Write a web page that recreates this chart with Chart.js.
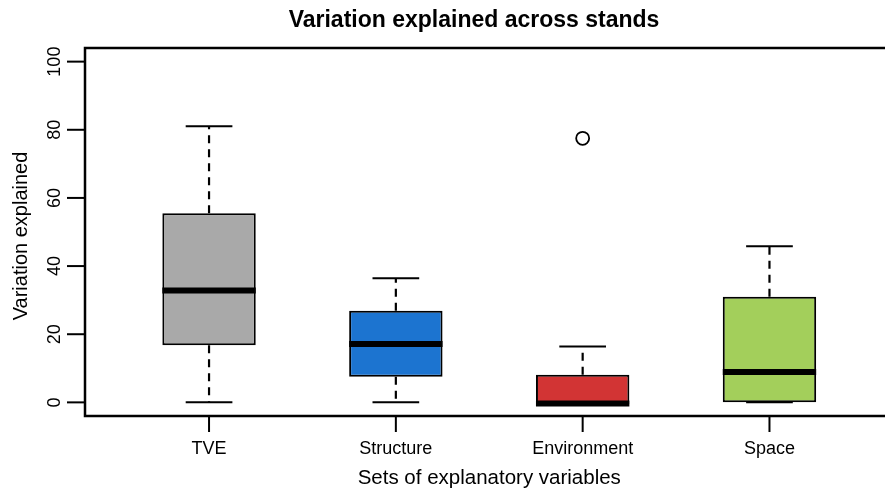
<!DOCTYPE html>
<html lang="en">
<head>
  <meta charset="UTF-8">
  <meta name="viewport" content="width=device-width, initial-scale=1.0">
  <title>Variation explained across stands</title>
  <script src="https://cdn.jsdelivr.net/npm/chart.js"></script>
  <style>
    html, body { margin: 0; padding: 0; background: #fff; overflow: hidden; }
    #wrap { width: 885px; height: 490px; }
  </style>
</head>
<body>
  <div id="wrap"><canvas id="box-chart"></canvas></div>
  <script>
    const categories = ['TVE', 'Structure', 'Environment', 'Space'];
    const whiskerLow = [0, 0, -0.5, 0];
    const quartile1 = [16.8, 7.5, -0.5, 0];
    const medians = [32.8, 17.1, -0.3, 8.9];
    const quartile3 = [55.5, 26.9, 8.1, 31.0];
    const whiskerHigh = [81.0, 36.4, 16.4, 45.8];
    const outlierGroups = [3];
    const outlierValues = [77.5];
    const yTicks = [0, 20, 40, 60, 80, 100];
    const boxColors = ['#A9A9A9', '#1C74D0', '#D23434', '#A3CF5B'];

    const positions = categories.map((c, i) => i + 1);
    const gap = x => ({ x, y: null });

    const boxData = positions.map((x, i) => ({ x, y: [quartile1[i], quartile3[i]] }));
    const medianData = positions.flatMap((x, i) => [
      { x: x - 0.25, y: medians[i] }, { x: x + 0.25, y: medians[i] }, gap(x + 0.25)
    ]);
    const whiskerData = positions.flatMap((x, i) => [
      { x, y: quartile3[i] }, { x, y: whiskerHigh[i] }, gap(x),
      { x, y: quartile1[i] }, { x, y: whiskerLow[i] }, gap(x)
    ]);
    const capData = positions.flatMap((x, i) => [
      { x: x - 0.125, y: whiskerHigh[i] }, { x: x + 0.125, y: whiskerHigh[i] }, gap(x),
      { x: x - 0.125, y: whiskerLow[i] }, { x: x + 0.125, y: whiskerLow[i] }, gap(x)
    ]);
    const outlierData = outlierGroups.map((g, i) => ({ x: g, y: outlierValues[i] }));

    const FONT = '"Liberation Sans", Arial, Helvetica, sans-serif';

    // frame, ticks and all text, placed with the chart's own scales
    const axesPlugin = {
      id: 'axesPlugin',
      afterDraw(chart) {
        const { ctx, chartArea: a, scales: { x, y } } = chart;
        ctx.save();
        ctx.strokeStyle = '#000';
        ctx.fillStyle = '#000';
        ctx.lineWidth = 2.5;
        ctx.beginPath();
        ctx.moveTo(chart.width + 5, a.top);
        ctx.lineTo(a.left, a.top);
        ctx.lineTo(a.left, a.bottom);
        ctx.lineTo(chart.width + 5, a.bottom);
        ctx.stroke();

        ctx.lineWidth = 2;
        ctx.font = '18px ' + FONT;
        yTicks.forEach(v => {
          const py = y.getPixelForValue(v);
          ctx.beginPath(); ctx.moveTo(a.left - 18, py); ctx.lineTo(a.left, py); ctx.stroke();
          ctx.save();
          ctx.translate(a.left - 25.5, py);
          ctx.rotate(-Math.PI / 2);
          ctx.textAlign = 'center';
          ctx.textBaseline = 'alphabetic';
          ctx.fillText(String(v), 0, 0);
          ctx.restore();
        });

        ctx.textAlign = 'center';
        ctx.textBaseline = 'alphabetic';
        positions.forEach((v, i) => {
          const px = x.getPixelForValue(v);
          ctx.beginPath(); ctx.moveTo(px, a.bottom); ctx.lineTo(px, a.bottom + 16); ctx.stroke();
          ctx.fillText(categories[i], px, 454);
        });

        ctx.font = '20.5px ' + FONT;
        ctx.fillText('Sets of explanatory variables', x.getPixelForValue(2.5), 484);
        ctx.font = '20px ' + FONT;
        ctx.save();
        ctx.translate(27, 236);
        ctx.rotate(-Math.PI / 2);
        ctx.fillText('Variation explained', 0, 0);
        ctx.restore();

        ctx.font = 'bold 23px ' + FONT;
        ctx.fillText('Variation explained across stands', 474, 27);
        ctx.restore();
      }
    };

    new Chart(document.getElementById('box-chart'), {
      type: 'bar',
      data: {
        datasets: [
          {
            type: 'scatter', data: outlierData, order: 0,
            pointRadius: 6.5, pointBorderWidth: 1.8, pointBorderColor: '#000', pointBackgroundColor: '#fff'
          },
          {
            type: 'line', data: medianData, order: 1,
            borderColor: '#000', borderWidth: 6, pointRadius: 0, spanGaps: false, fill: false
          },
          {
            type: 'bar', data: boxData, order: 2, grouped: false,
            backgroundColor: boxColors, borderColor: '#000', borderWidth: 2, borderSkipped: false,
            barPercentage: 0.5, categoryPercentage: 1
          },
          {
            type: 'line', data: whiskerData, order: 3,
            borderColor: '#000', borderWidth: 2.2, borderDash: [8, 6], pointRadius: 0, spanGaps: false, fill: false
          },
          {
            type: 'line', data: capData, order: 4,
            borderColor: '#000', borderWidth: 2, pointRadius: 0, spanGaps: false, fill: false
          }
        ]
      },
      options: {
        responsive: true,
        maintainAspectRatio: false,
        animation: false,
        layout: { padding: { left: 85, top: 48, right: 0, bottom: 74 } },
        plugins: { legend: { display: false }, tooltip: { enabled: false } },
        scales: {
          // the outlier point keeps ~8px free on the right, so the axis ends there
          x: {
            type: 'linear', min: 0.336, max: 4.574, offset: false, display: false,
            afterBuildTicks: scale => { scale.ticks = positions.map(v => ({ value: v })); }
          },
          y: { type: 'linear', min: -4, max: 104, display: false }
        }
      },
      plugins: [axesPlugin]
    });
  </script>
</body>
</html>
